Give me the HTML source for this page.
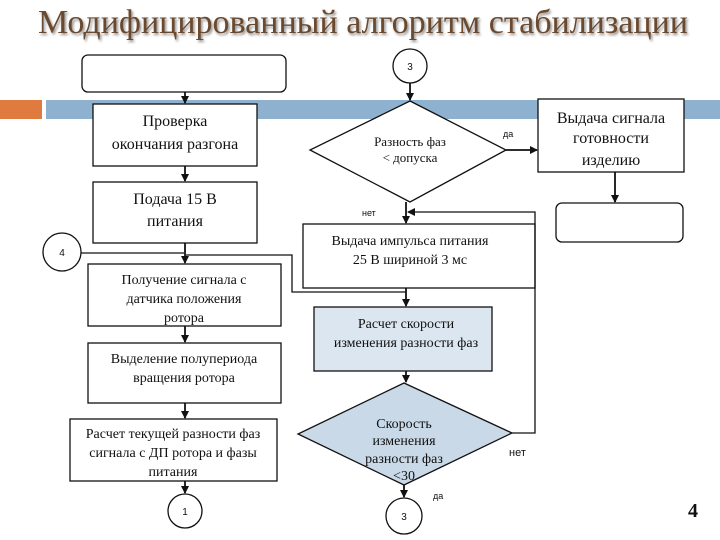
<!DOCTYPE html>
<html><head><meta charset="utf-8"><style>
html,body{margin:0;padding:0;background:#fff;width:720px;height:540px;overflow:hidden}
svg{display:block}
.t{font-family:"Liberation Serif","DejaVu Serif",serif;fill:#111;text-anchor:middle}
.s{font-family:"Liberation Sans","DejaVu Sans",sans-serif;fill:#111}
</style></head><body>
<svg width="720" height="540" viewBox="0 0 720 540" xmlns="http://www.w3.org/2000/svg">
<defs>
<marker id="a" markerWidth="8" markerHeight="8" refX="7" refY="4" orient="auto" markerUnits="userSpaceOnUse">
<path d="M0,0 L8,4 L0,8 z" fill="#111"/></marker>
<filter id="sh"><feDropShadow dx="1.5" dy="2" stdDeviation="1.2" flood-color="#000" flood-opacity="0.45"/></filter>
</defs>
<text x="363" y="33" class="t" font-size="34" style="fill:#6b4a2e" filter="url(#sh)" textLength="650" lengthAdjust="spacingAndGlyphs">Модифицированный алгоритм стабилизации</text>
<rect x="0" y="100" width="42" height="19" fill="#e07b40"/>
<rect x="46" y="100" width="674" height="19" fill="#8fb1d0"/>
<g stroke="#111" stroke-width="1.3" fill="#fff">
<rect x="82" y="55" width="204" height="37" rx="6"/>
<rect x="93" y="104" width="164" height="62"/>
<rect x="93" y="182" width="164" height="61"/>
<circle cx="62" cy="252" r="19"/>
<rect x="88" y="264" width="193" height="62"/>
<rect x="88" y="343" width="193" height="60"/>
<rect x="70" y="419" width="207" height="62"/>
<circle cx="185" cy="511" r="17"/>
<circle cx="410" cy="66" r="17"/>
<polygon points="410,101 506,150 410,202 310,150"/>
<rect x="538" y="99" width="146" height="73"/>
<rect x="556" y="203" width="127" height="39" rx="6"/>
<rect x="303" y="224" width="232" height="64"/>
<rect x="314" y="307" width="178" height="64" fill="#dce6f0"/>
<polygon points="404,383 512,433 404,485 298,434" fill="#c9d9e8"/>
<circle cx="404" cy="516" r="18"/>
</g>
<g stroke="#111" stroke-width="1.8" fill="none">
<line x1="185" y1="92" x2="185" y2="103" marker-end="url(#a)"/>
<line x1="185" y1="166" x2="185" y2="181" marker-end="url(#a)"/>
<line x1="185" y1="243" x2="185" y2="263" marker-end="url(#a)"/>
<line x1="81" y1="253" x2="184" y2="253" stroke-width="1.3"/>
<polyline points="406,292 292,292 292,255 186,255" stroke-width="1.3"/>
<line x1="185" y1="326" x2="185" y2="342" marker-end="url(#a)"/>
<line x1="185" y1="403" x2="185" y2="418" marker-end="url(#a)"/>
<line x1="185" y1="481" x2="185" y2="493" marker-end="url(#a)"/>
<line x1="410" y1="83" x2="410" y2="100" marker-end="url(#a)"/>
<line x1="506" y1="150" x2="537" y2="150" marker-end="url(#a)"/>
<line x1="615" y1="172" x2="615" y2="202" marker-end="url(#a)"/>
<line x1="406" y1="202" x2="406" y2="223" marker-end="url(#a)"/>
<polyline points="512,433 535,433 535,212 408,212" stroke-width="1.3" marker-end="url(#a)"/>
<line x1="406" y1="288" x2="406" y2="306" marker-end="url(#a)"/>
<line x1="406" y1="371" x2="406" y2="382" marker-end="url(#a)"/>
<line x1="404" y1="485" x2="404" y2="497" marker-end="url(#a)"/>
</g>
<g class="t" font-size="16">
<text x="175" y="126">Проверка</text>
<text x="175" y="149">окончания разгона</text>
<text x="175" y="204">Подача 15 В</text>
<text x="175" y="226">питания</text>
<text x="184" y="284" font-size="14">Получение сигнала с</text>
<text x="184" y="303" font-size="14">датчика положения</text>
<text x="184" y="322" font-size="14">ротора</text>
<text x="184" y="363" font-size="14">Выделение полупериода</text>
<text x="184" y="382" font-size="14">вращения ротора</text>
<text x="173" y="438" font-size="14">Расчет текущей разности фаз</text>
<text x="173" y="457" font-size="14">сигнала с ДП ротора и фазы</text>
<text x="173" y="476" font-size="14">питания</text>
<text x="410" y="146" font-size="13">Разность фаз</text>
<text x="410" y="162" font-size="13">&lt; допуска</text>
<text x="611" y="123">Выдача сигнала</text>
<text x="611" y="143">готовности</text>
<text x="611" y="165">изделию</text>
<text x="410" y="245" font-size="14">Выдача импульса питания</text>
<text x="410" y="264" font-size="14">25 В шириной 3 мс</text>
<text x="406" y="328" font-size="14">Расчет скорости</text>
<text x="406" y="347" font-size="14">изменения разности фаз</text>
<text x="404" y="428" font-size="14">Скорость</text>
<text x="404" y="445" font-size="14">изменения</text>
<text x="404" y="463" font-size="14">разности фаз</text>
<text x="404" y="480" font-size="14">&lt;30</text>
</g>
<g class="s">
<text x="62" y="256" font-size="10" text-anchor="middle">4</text>
<text x="185" y="515" font-size="10" text-anchor="middle">1</text>
<text x="410" y="70" font-size="10" text-anchor="middle">3</text>
<text x="404" y="520" font-size="10" text-anchor="middle">3</text>
<text x="503" y="137" font-size="9">да</text>
<text x="362" y="216" font-size="9">нет</text>
<text x="509" y="456" font-size="11">нет</text>
<text x="433" y="499" font-size="9">да</text>
<text x="693" y="517" font-size="20" font-weight="bold" text-anchor="middle" style="font-family:'Liberation Serif',serif">4</text>
</g>
</svg>
</body></html>
